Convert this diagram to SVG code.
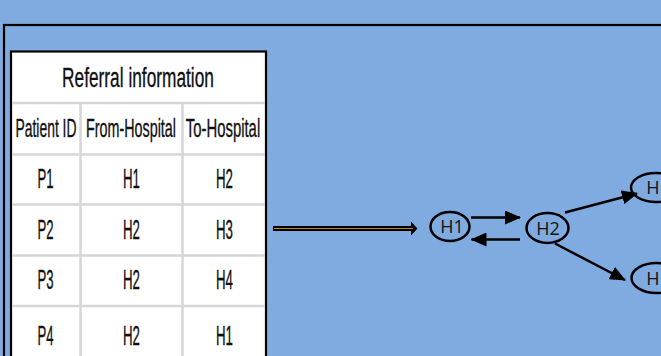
<svg xmlns="http://www.w3.org/2000/svg" width="661" height="356" viewBox="0 0 661 356">
<defs>
<style>
.tt{font-family:"Liberation Sans",Arial,sans-serif;fill:#111;stroke:#111;stroke-width:0.35;text-anchor:middle}
.t28{font-size:28px}
.t25{font-size:25px}
.grid{stroke:#d6d6d6;stroke-width:2.5;fill:none}
.node{fill:none;stroke:#000;stroke-width:2.5}
.nl{font-family:"Open Sans","Liberation Sans",sans-serif;font-size:18px;fill:#111;text-anchor:middle}
.edge{stroke:#000;stroke-width:2.5;fill:none;marker-end:url(#ah)}
</style>
<marker id="ah" markerUnits="userSpaceOnUse" markerWidth="16" markerHeight="14" refX="15" refY="7" orient="auto">
<path d="M0,0 L16,7 L0,14 Z" fill="#000"/>
</marker>
</defs>
<rect x="0" y="0" width="661" height="356" fill="#80abe0"/>
<rect id="frame" x="4" y="25" width="720" height="400" fill="none" stroke="#000" stroke-width="2.2"/>

<g id="table">
<rect x="11" y="51.5" width="255" height="330" fill="#fff" stroke="#000" stroke-width="2.2"/>
<path class="grid" d="M12,103 H265 M12,154.5 H265 M12,204.5 H265 M12,255.5 H265 M12,306 H265 M80.5,103 V356 M182.5,103 V356"/>
<text class="tt t28" transform="translate(138,87) scale(0.618,1)">Referral information</text>
<text class="tt t25" transform="translate(46,137) scale(0.556,1)">Patient ID</text>
<text class="tt t25" transform="translate(131,137) scale(0.573,1)">From-Hospital</text>
<text class="tt t25" transform="translate(223,137) scale(0.595,1)">To-Hospital</text>
<text class="tt t28" transform="translate(45.5,188) scale(0.47,1)">P1</text>
<text class="tt t28" transform="translate(131.5,188) scale(0.475,1)">H1</text>
<text class="tt t28" transform="translate(224.5,188) scale(0.475,1)">H2</text>
<text class="tt t28" transform="translate(45.5,239) scale(0.47,1)">P2</text>
<text class="tt t28" transform="translate(131.5,239) scale(0.475,1)">H2</text>
<text class="tt t28" transform="translate(224.5,239) scale(0.475,1)">H3</text>
<text class="tt t28" transform="translate(45.5,289) scale(0.47,1)">P3</text>
<text class="tt t28" transform="translate(131.5,289) scale(0.475,1)">H2</text>
<text class="tt t28" transform="translate(224.5,289) scale(0.475,1)">H4</text>
<text class="tt t28" transform="translate(45.5,345) scale(0.47,1)">P4</text>
<text class="tt t28" transform="translate(131.5,345) scale(0.475,1)">H2</text>
<text class="tt t28" transform="translate(224.5,345) scale(0.475,1)">H1</text>
</g>

<g id="connectors">
<g id="big-arrow">
<path d="M273,226 H411 V221.5 L417.5,228.5 L411,235.5 V231 H273 Z" fill="#000"/>
<path d="M274,228.5 H413" stroke="#c8861c" stroke-width="1.2"/>
</g>
<path class="edge" d="M471,217.5 H520"/>
<path class="edge" d="M520,239.5 H471.5"/>
<path class="edge" d="M565,212.5 L637,193.5"/>
<path class="edge" d="M555,243.5 L625,280"/>
</g>

<g id="n-h1">
<ellipse class="node" cx="450" cy="226.5" rx="19.5" ry="14.5"/>
<text class="nl" x="452" y="233">H1</text>
</g>
<g id="n-h2">
<ellipse class="node" cx="547.5" cy="228" rx="21" ry="15"/>
<text class="nl" x="548" y="235">H2</text>
</g>
<g id="n-h3">
<ellipse class="node" cx="656" cy="187.5" rx="25" ry="14.5"/>
<text class="nl" x="653" y="194">H</text>
</g>
<g id="n-h4">
<ellipse class="node" cx="656.5" cy="278" rx="25" ry="15"/>
<text class="nl" x="653" y="284.5">H</text>
</g>
</svg>
